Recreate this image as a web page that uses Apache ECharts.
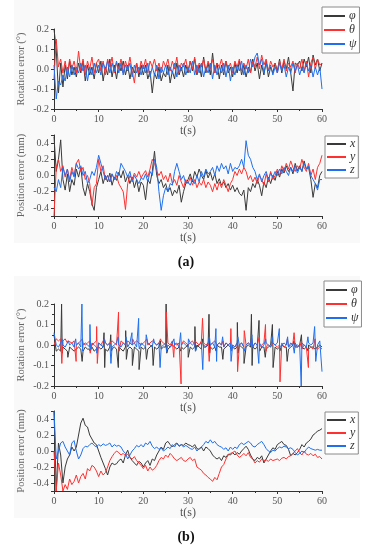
<!DOCTYPE html>
<html><head><meta charset="utf-8">
<script src="https://cdn.jsdelivr.net/npm/echarts@6/dist/echarts.min.js"></script>
<style>html,body{margin:0;padding:0;background:#fff}#c{width:369px;height:550px}</style>
</head><body><div id="c"></div>
<script>
// sampling step of the stored series (seconds)
const STEP = 0.5;
const xTicks = [0, 10, 20, 30, 40, 50, 60];

// (a) Rotation error (deg)
const rotA_phi = [
0.20,0.10,-0.12,0.03,-0.09,0.02,-0.05,0.04,-0.03,0.01,
-0.04,0.03,-0.02,0.04,-0.06,0.02,-0.03,0.01,-0.05,0.03,
-0.02,0.04,-0.06,0.01,-0.03,0.05,-0.04,0.02,-0.05,0.03,
-0.01,0.04,-0.03,0.02,-0.05,0.01,-0.02,0.03,-0.04,0.02,
-0.03,0.02,-0.05,-0.01,-0.12,-0.02,-0.05,0.01,-0.06,-0.02,
-0.04,0.02,-0.07,-0.01,-0.05,0.03,-0.03,0.01,-0.04,0.02,
-0.02,0.04,-0.01,0.05,-0.03,0.02,-0.04,0.06,-0.02,0.03,
-0.03,0.08,-0.02,0.03,-0.05,0.02,-0.03,0.04,-0.02,0.01,
-0.04,0.03,-0.02,0.04,-0.03,0.02,-0.04,0.01,-0.02,0.05,
-0.01,0.03,-0.05,0.02,-0.03,0.04,-0.04,0.01,-0.02,0.03,
-0.01,0.05,-0.02,0.04,0.00,0.06,-0.02,-0.11,0.03,0.02,
0.04,-0.01,0.05,0.01,0.06,-0.02,0.07,0.02,0.05,-0.01,
0.03];
const rotA_theta = [
-0.05,0.15,0.01,0.05,-0.02,0.04,-0.03,0.05,0.00,0.04,
-0.02,0.09,-0.01,0.05,-0.03,0.04,0.00,0.06,-0.02,0.03,
0.05,-0.01,0.04,-0.03,0.05,0.01,0.06,-0.02,0.03,0.00,
0.05,-0.02,0.04,0.00,0.06,-0.01,-0.07,0.03,-0.02,0.04,
0.00,0.05,-0.02,0.04,0.01,0.05,-0.01,0.03,-0.02,0.04,
0.01,0.05,-0.01,0.04,0.00,0.06,-0.02,0.03,0.01,0.05,
-0.01,0.04,0.00,0.06,-0.02,0.03,0.01,0.05,-0.01,0.04,
0.00,0.05,-0.02,0.03,0.01,0.05,-0.01,0.04,0.00,0.03,
-0.02,0.04,0.01,0.05,-0.01,0.03,0.00,0.05,-0.02,0.04,
0.01,0.06,0.00,0.07,0.02,0.05,-0.01,0.04,0.01,0.03,
-0.02,0.04,0.00,0.05,-0.01,0.03,0.01,0.04,-0.02,0.03,
0.00,0.05,-0.01,0.04,-0.04,0.03,0.06,0.00,0.05,0.02,
0.03];
const rotA_psi = [
0.02,-0.15,-0.06,-0.08,-0.03,-0.06,0.01,-0.04,0.02,-0.03,
0.01,-0.02,0.03,-0.01,0.02,-0.06,0.01,-0.03,0.03,-0.02,
0.02,-0.03,0.03,0.00,0.04,-0.02,0.03,-0.01,0.04,-0.02,
0.03,-0.03,0.02,-0.01,0.03,-0.04,0.02,-0.02,0.01,-0.03,
0.02,-0.02,0.03,-0.04,0.01,-0.03,0.02,-0.05,0.01,-0.02,
0.02,-0.03,0.01,-0.02,0.03,-0.04,0.02,-0.01,0.03,-0.03,
0.01,-0.02,0.04,-0.03,0.02,-0.02,0.03,-0.04,0.01,-0.02,
0.03,-0.05,0.02,-0.03,0.01,-0.02,0.03,-0.04,0.02,-0.06,
0.01,-0.03,0.02,-0.01,0.04,-0.03,0.02,-0.02,0.05,0.01,
0.06,0.08,0.02,0.05,-0.02,0.03,-0.01,0.02,-0.03,0.01,
-0.02,0.03,-0.01,0.02,-0.04,0.01,-0.02,0.03,-0.01,0.02,
-0.03,0.01,-0.02,0.03,-0.01,0.02,-0.04,0.01,-0.03,0.01,
-0.10];

// (a) Position error (mm)
const posA_x = [
0.48,0.05,0.20,0.44,-0.05,-0.18,0.02,-0.20,-0.05,-0.12,
0.08,-0.02,0.10,-0.15,-0.25,-0.10,-0.20,-0.35,-0.43,-0.15,
-0.05,0.05,-0.10,0.00,-0.08,0.03,-0.12,-0.02,-0.06,0.04,
-0.03,0.06,-0.08,0.00,-0.10,-0.02,-0.15,-0.05,-0.20,-0.08,
-0.12,-0.30,-0.05,-0.10,0.05,0.30,0.00,-0.10,-0.05,-0.15,
-0.10,-0.20,-0.15,-0.25,-0.18,-0.22,-0.12,-0.33,-0.20,-0.10,
-0.05,0.02,-0.08,0.05,-0.02,0.08,0.00,-0.05,0.06,-0.03,
0.04,-0.06,0.02,-0.10,-0.04,-0.12,-0.08,-0.15,-0.10,-0.18,
-0.12,-0.20,-0.15,-0.22,-0.25,-0.18,-0.43,-0.15,-0.20,-0.10,
-0.15,-0.05,-0.12,-0.25,-0.08,-0.15,-0.02,-0.10,0.00,-0.06,
0.05,-0.02,0.08,0.03,0.12,0.05,0.10,0.02,0.15,0.06,
0.12,0.05,0.18,0.08,0.10,-0.05,-0.27,-0.10,-0.15,0.00,
0.05];
const posA_y = [
-0.50,0.10,0.20,0.05,0.12,-0.02,0.08,-0.05,0.10,0.00,
0.15,0.20,0.05,0.10,-0.05,0.00,-0.10,-0.37,-0.15,-0.10,
0.20,0.05,0.12,-0.05,0.00,-0.08,0.02,-0.05,0.00,-0.10,
-0.15,-0.20,-0.42,-0.10,0.00,-0.05,0.03,-0.02,0.05,-0.03,
0.02,0.06,-0.02,0.08,0.20,0.15,0.05,0.00,0.05,-0.05,
0.00,-0.08,0.03,-0.10,-0.05,-0.12,0.00,-0.08,-0.15,-0.05,
-0.10,-0.02,-0.12,-0.05,-0.15,-0.08,-0.12,-0.05,-0.15,-0.08,
-0.12,-0.20,-0.10,-0.18,-0.08,-0.15,-0.05,-0.12,-0.20,-0.10,
-0.05,0.05,0.00,0.08,0.02,0.10,0.05,-0.05,0.00,-0.08,
-0.02,-0.10,0.00,-0.05,-0.12,0.02,-0.08,0.05,-0.05,0.00,
0.08,0.00,0.12,0.05,0.15,0.08,0.18,0.10,0.05,0.12,
0.08,0.20,0.10,0.05,0.15,0.00,0.08,-0.05,0.10,0.15,
0.25];
const posA_z = [
-0.15,-0.20,-0.05,-0.15,0.10,0.00,0.08,-0.08,0.05,-0.02,
0.15,0.08,0.12,0.00,0.05,-0.10,-0.05,0.05,0.00,0.10,
0.25,0.15,0.05,-0.05,0.00,-0.08,0.02,-0.05,0.05,0.00,
0.15,0.10,0.05,-0.02,0.05,-0.08,0.00,-0.05,-0.10,-0.03,
-0.05,0.02,-0.08,0.05,0.00,0.20,0.10,-0.20,-0.43,-0.25,
-0.15,-0.20,-0.10,-0.12,0.05,0.15,0.05,-0.05,0.00,-0.10,
-0.08,-0.12,-0.05,-0.10,0.00,-0.08,0.05,-0.02,0.08,0.02,
0.05,0.10,0.00,0.12,0.05,0.15,0.08,0.12,0.02,0.15,
0.05,0.10,0.08,0.12,0.20,0.10,0.43,0.25,0.20,0.10,
0.05,-0.05,0.02,-0.08,0.00,0.05,-0.05,0.03,-0.02,0.05,
0.00,0.08,0.02,0.10,0.05,0.00,0.10,0.05,0.12,0.03,
0.10,0.05,0.15,0.08,0.12,0.00,-0.05,-0.10,-0.18,-0.05,
-0.05];

// (b) Rotation error (deg): baseline samples + spikes [t, value]
const rotB_phi = [
0.05,-0.03,-0.02,-0.03,-0.01,-0.02,-0.03,-0.01,-0.02,-0.03,
-0.02,-0.01,-0.02,-0.03,-0.01,-0.02,-0.02,-0.01,-0.03,-0.02,
-0.01,-0.02,-0.01,-0.02,-0.03,-0.01,-0.02,-0.01,-0.02,-0.01,
-0.02,-0.03,-0.01,-0.02,-0.01,-0.02,-0.01,-0.02,-0.03,-0.01,
-0.02,-0.01,-0.02,-0.01,0.00,-0.01,-0.02,-0.01,-0.02,-0.01,
-0.01,-0.02,-0.01,0.00,-0.01,-0.02,-0.01,-0.01,-0.02,-0.01,
0.00,-0.01,-0.02,-0.01,0.00,-0.01,-0.02,-0.01,-0.01,0.00,
-0.01,-0.02,-0.01,0.00,-0.01,-0.01,-0.02,-0.01,0.00,-0.01,
-0.01,-0.02,-0.01,0.00,-0.01,-0.02,-0.01,0.00,-0.01,-0.01,
-0.02,-0.01,0.00,-0.01,-0.01,-0.02,-0.01,0.00,-0.01,-0.01,
-0.02,-0.01,0.00,-0.01,-0.01,-0.02,-0.01,0.00,-0.01,-0.01,
0.00,-0.01,-0.02,-0.01,0.00,-0.01,-0.01,-0.02,-0.01,0.00,
-0.01];
const rotB_theta = [
0.00,0.03,0.02,0.03,0.02,0.03,0.01,0.02,0.01,0.02,
0.00,0.01,0.02,0.01,0.00,0.01,0.02,0.00,0.01,0.02,
0.01,0.00,0.02,0.01,0.00,0.01,0.02,0.01,0.00,0.01,
0.02,0.01,0.00,0.02,0.01,0.00,0.01,0.02,0.01,0.00,
0.01,0.02,0.00,0.01,0.02,0.01,0.00,0.01,0.02,0.01,
0.00,0.01,0.00,0.02,0.01,0.00,0.01,0.00,0.02,0.01,
0.00,0.01,0.02,0.00,0.01,0.00,0.02,0.01,0.00,0.01,
0.00,0.01,0.02,0.00,0.01,0.00,-0.01,0.01,0.00,0.01,
0.00,-0.01,0.01,0.00,0.01,-0.01,0.00,0.01,0.00,-0.01,
0.01,0.00,-0.01,0.00,0.01,-0.01,0.00,-0.01,0.01,0.00,
-0.01,0.00,0.01,-0.01,0.00,-0.01,0.00,0.01,-0.01,0.00,
-0.01,-0.02,0.00,-0.01,-0.02,-0.01,-0.02,-0.01,-0.02,-0.01,
-0.02];
const rotB_psi = [
0.06,0.00,-0.01,0.01,0.00,-0.01,0.01,0.00,0.01,-0.01,
0.00,0.01,-0.01,0.00,0.01,0.00,-0.01,0.01,0.00,-0.01,
0.01,0.00,-0.01,0.01,0.00,0.01,-0.01,0.00,0.01,0.00,
-0.01,0.01,0.00,-0.01,0.01,0.00,0.01,-0.01,0.00,0.01,
0.00,-0.01,0.01,0.00,-0.01,0.01,0.00,0.01,-0.01,0.00,
0.01,0.00,-0.01,0.01,0.00,0.01,-0.01,0.00,0.01,0.00,
-0.01,0.01,0.00,0.01,-0.01,0.00,0.01,0.00,-0.01,0.01,
0.00,0.01,-0.01,0.00,0.01,0.00,-0.01,0.01,0.00,0.01,
0.00,-0.01,0.01,0.00,0.01,-0.01,0.00,0.01,0.00,-0.01,
0.01,0.00,0.01,-0.01,0.00,0.01,0.00,-0.01,0.01,0.00,
0.01,-0.01,0.00,0.01,0.00,-0.01,0.01,0.00,0.01,-0.01,
0.00,0.01,0.00,-0.01,0.01,0.00,0.01,-0.01,0.00,0.02,
-0.13];
const rotB_phiSpikes = [
[1.7,0.20],[1.85,-0.04],[3.1,-0.06],[4.9,-0.03],[6.3,-0.08],[8.05,-0.03],
[11.2,0.06],[11.35,-0.11],[12.7,0.05],[12.85,-0.03],[14.4,-0.11],
[16.05,0.07],[16.2,-0.07],[17.55,-0.10],[19.05,-0.12],[20.7,-0.07],
[22.2,-0.10],[23.8,0.02],[25.1,0.20],[25.25,-0.04],[28.4,-0.03],
[30.05,-0.06],[31.55,0.09],[31.7,-0.03],[33.2,0.03],[34.7,0.15],[34.85,-0.04],
[36.3,-0.03],[37.8,-0.07],[39.55,-0.02],[41.05,0.11],[41.2,-0.04],
[42.55,-0.09],[44.2,0.15],[44.35,-0.10],[45.9,0.12],[46.05,-0.03],
[47.3,-0.06],[48.9,0.10],[49.05,-0.11],[50.55,-0.03],[52.2,-0.08],
[53.7,0.02],[55.4,0.05],[56.9,-0.03],[58.4,-0.02]];
const rotB_thetaSpikes = [
[1.75,-0.09],[3.15,0.02],[4.95,-0.08],[6.35,0.03],[8.1,-0.04],
[9.55,0.09],[9.7,-0.09],[11.25,0.03],[14.45,0.16],[14.6,-0.03],
[17.6,0.03],[20.75,0.03],[23.85,0.03],[25.15,0.16],[26.8,-0.06],
[28.45,-0.19],[31.6,0.02],[33.25,0.13],[34.75,-0.08],[37.85,0.02],
[39.6,0.08],[39.75,-0.03],[41.1,-0.13],[42.6,0.07],[44.25,0.03],
[45.95,0.04],[47.35,0.10],[47.45,-0.03],[50.6,-0.18],[52.25,0.03],
[53.75,0.06],[55.45,0.02],[56.95,-0.11],[58.45,0.03]];
const rotB_psiSpikes = [
[1.8,0.03],[3.2,0.02],[4.85,0.03],[6.25,0.20],[6.4,-0.03],
[8.05,0.10],[8.2,-0.02],[9.6,-0.04],[11.3,0.03],[12.75,-0.09],
[14.35,0.04],[16.1,0.04],[17.45,0.06],[18.95,0.13],[19.1,-0.02],
[20.65,0.05],[22.3,0.03],[23.75,-0.11],[25.2,-0.03],[26.85,0.03],
[28.35,0.06],[30.1,0.03],[31.65,-0.03],[33.3,-0.12],[34.8,0.04],
[36.25,0.08],[36.4,-0.08],[37.75,0.04],[39.65,-0.08],[41.15,0.04],
[42.65,-0.03],[44.3,0.05],[45.85,-0.09],[47.4,0.03],[48.95,0.04],
[50.45,0.08],[52.3,0.04],[53.8,-0.04],[55.35,-0.20],[56.85,0.04],
[58.35,0.09],[58.6,-0.08]];

// (b) Position error (mm)
const posB_x = [
0.50,-0.50,0.10,-0.05,-0.40,-0.20,-0.10,-0.05,0.05,0.00,
0.05,0.20,0.35,0.41,0.32,0.30,0.20,0.15,0.10,0.08,
0.00,-0.08,-0.15,-0.22,-0.30,-0.20,-0.15,-0.17,-0.16,-0.12,
-0.10,-0.15,-0.05,0.01,-0.08,-0.12,-0.15,-0.18,-0.13,-0.15,
-0.20,-0.15,-0.12,-0.18,-0.10,-0.12,-0.05,0.00,0.05,0.02,
0.10,0.12,0.08,0.05,0.08,0.10,0.06,0.08,0.07,0.10,
0.08,0.07,0.05,0.08,0.03,0.02,0.05,0.00,0.05,0.03,
0.00,-0.05,-0.08,-0.10,-0.08,-0.12,-0.06,-0.08,-0.04,-0.05,
-0.02,-0.05,-0.02,-0.04,0.00,0.03,0.06,0.02,-0.05,-0.10,
-0.12,-0.08,-0.10,-0.06,-0.15,-0.10,-0.05,0.00,0.04,0.02,
0.08,0.10,0.12,0.08,0.07,0.02,-0.06,-0.03,-0.05,-0.02,
0.02,0.08,0.05,0.10,0.12,0.15,0.20,0.22,0.25,0.26,
0.28];
const posB_y = [
0.00,-0.50,-0.15,-0.30,-0.50,-0.42,-0.48,-0.35,-0.42,-0.38,
-0.30,-0.40,-0.32,-0.28,-0.35,-0.22,-0.25,-0.18,-0.20,-0.25,
-0.32,-0.25,-0.30,-0.27,-0.20,-0.12,-0.07,-0.03,0.00,-0.02,
-0.05,-0.03,-0.06,-0.04,-0.08,-0.10,-0.07,-0.12,-0.15,-0.18,
-0.22,-0.18,-0.25,-0.20,-0.24,-0.22,-0.18,-0.12,-0.08,-0.10,
-0.05,-0.08,-0.03,-0.06,-0.10,-0.12,-0.10,-0.08,-0.12,-0.13,
-0.10,-0.08,-0.12,-0.10,-0.20,-0.22,-0.24,-0.28,-0.30,-0.33,
-0.35,-0.38,-0.33,-0.36,-0.28,-0.20,-0.17,-0.10,-0.05,-0.03,
-0.02,0.00,-0.05,-0.08,-0.06,-0.03,-0.06,-0.02,-0.08,-0.10,
-0.15,-0.12,-0.14,-0.10,-0.12,-0.11,-0.13,-0.10,-0.12,-0.11,
-0.10,-0.12,-0.09,-0.08,-0.10,-0.07,-0.06,-0.03,0.00,0.03,
-0.02,-0.05,0.00,-0.04,-0.05,-0.03,-0.06,-0.04,-0.08,-0.07,
-0.10];
const posB_z = [
0.50,-0.10,0.00,0.10,0.12,0.05,0.00,-0.05,0.10,0.13,
0.00,-0.10,-0.05,0.03,0.06,0.05,0.08,0.10,0.07,0.05,
0.08,0.06,0.09,0.07,0.08,0.10,0.05,0.08,0.06,0.07,
0.05,0.00,-0.03,-0.10,-0.05,0.00,0.03,0.07,0.05,0.08,
0.05,0.10,0.08,0.12,0.06,0.03,0.05,0.02,0.04,0.00,
0.02,0.05,0.03,0.08,0.05,0.10,0.06,0.08,0.05,0.07,
0.05,0.03,0.02,0.05,0.00,0.03,0.05,0.08,0.12,0.10,
0.14,0.10,0.12,0.08,0.06,0.05,0.02,0.04,0.00,0.05,
0.02,0.05,0.03,0.08,0.10,0.08,0.10,0.12,0.10,0.06,
0.05,0.08,0.10,0.12,0.08,0.03,0.00,-0.02,0.01,0.00,
0.03,0.05,0.04,0.06,0.05,0.03,0.04,0.02,-0.02,-0.05,
-0.03,0.00,-0.02,0.02,0.05,0.03,0.02,0.01,0.02,0.01,
0.01];

const rotNames = ['\u03c6', '\u03b8', '\u03c8'];
const posNames = ['x', 'y', 'z'];
const colors = ['#3a3a3a', '#ff3030', '#1f6fee'];

function toPairs(vals) { return vals.map((v, i) => [i * STEP, v]); }
function withSpikes(vals, spikes) {
  return toPairs(vals).concat(spikes).sort((a, b) => a[0] - b[0]);
}

const grids = [
  {left: 54, top: 29, width: 268, height: 80},
  {left: 54, top: 135, width: 268, height: 81},
  {left: 54, top: 304, width: 268, height: 82},
  {left: 54, top: 411, width: 268, height: 80}
].map(g => Object.assign({outerBoundsMode: 'none', containLabel: false}, g));

const axisCol = '#333';
const labelFont = {fontFamily: 'Liberation Serif', fontSize: 10, color: '#555'};

function xAxis(i) {
  return {
    type: 'value', gridIndex: i, min: xTicks[0], max: xTicks[xTicks.length - 1], interval: 10,
    name: 't(s)', nameLocation: 'middle', nameGap: 14,
    nameTextStyle: {fontFamily: 'Liberation Serif', fontSize: 12, color: '#555'},
    axisLine: {show: true, onZero: false, lineStyle: {color: axisCol, width: 1}},
    axisTick: {show: true, length: 3, lineStyle: {color: axisCol}},
    minorTick: {show: true, splitNumber: 2, length: 2, lineStyle: {color: axisCol}},
    splitLine: {show: false}, minorSplitLine: {show: false},
    axisLabel: Object.assign({margin: 5, formatter: v => String(v)}, labelFont)
  };
}
function yAxisRot(i) {
  return {
    type: 'value', gridIndex: i, min: -0.2, max: 0.2, interval: 0.1,
    name: 'Rotation error (\u00b0)', nameLocation: 'middle', nameGap: 27, nameRotate: 90,
    nameMoveOverlap: false,
    nameTextStyle: {fontFamily: 'Liberation Serif', fontSize: 10.5, color: '#666'},
    axisLine: {show: true, onZero: false, lineStyle: {color: axisCol, width: 1}},
    axisTick: {show: true, length: 3, lineStyle: {color: axisCol}},
    minorTick: {show: true, splitNumber: 2, length: 2, lineStyle: {color: axisCol}},
    splitLine: {show: false}, minorSplitLine: {show: false},
    axisLabel: Object.assign({margin: 5, formatter: v => v.toFixed(1)}, labelFont)
  };
}
function yAxisPos(i) {
  return {
    type: 'value', gridIndex: i, min: -0.5, max: 0.5, interval: 0.1,
    name: 'Position error (mm)', nameLocation: 'middle', nameGap: 27, nameRotate: 90,
    nameMoveOverlap: false,
    nameTextStyle: {fontFamily: 'Liberation Serif', fontSize: 10.5, color: '#666'},
    axisLine: {show: true, onZero: false, lineStyle: {color: axisCol, width: 1}},
    axisTick: {show: true, length: 3, lineStyle: {color: axisCol}},
    splitLine: {show: false},
    axisLabel: Object.assign({margin: 5, formatter: v => {
      const k = Math.round(v * 10);
      return (Math.abs(k) % 2 === 0 && Math.abs(k) < 5) ? (k / 10).toFixed(1) : '';
    }}, labelFont)
  };
}

function line(name, data, idx, ci) {
  return {
    type: 'line', name: name, data: data, xAxisIndex: idx, yAxisIndex: idx,
    showSymbol: false, symbol: 'none', lineStyle: {width: 1, color: colors[ci]},
    itemStyle: {color: colors[ci]}, color: colors[ci], animation: false, z: 2 + ci
  };
}

function legend(names, left, top, lh, gap, w, pad) {
  return {
    data: names.map(n => ({name: n, icon: 'rect'})), orient: 'vertical', left: left, top: top,
    padding: pad, itemWidth: w, itemHeight: 2, itemGap: gap, selectedMode: false,
    borderColor: '#8a8a8a', borderWidth: 1, backgroundColor: '#fff',
    textStyle: {fontFamily: 'Liberation Serif', fontStyle: 'italic', fontSize: 12, lineHeight: lh,
      color: '#333', padding: [0, 0, 0, -1]}
  };
}

const option = {
  animation: false,
  backgroundColor: '#fff',
  graphic: [
    {type: 'rect', shape: {x: 14, y: 0, width: 346, height: 243}, style: {fill: '#f9f9f9'}, z: -10, silent: true},
    {type: 'rect', shape: {x: 14, y: 276, width: 346, height: 242}, style: {fill: '#f9f9f9'}, z: -10, silent: true},
    {type: 'text', x: 186, y: 262, style: {text: '(a)', font: 'bold 14px "Liberation Serif"', fill: '#111', textAlign: 'center', textVerticalAlign: 'middle'}},
    {type: 'text', x: 186, y: 537, style: {text: '(b)', font: 'bold 14px "Liberation Serif"', fill: '#111', textAlign: 'center', textVerticalAlign: 'middle'}}
  ],
  grid: grids,
  xAxis: [xAxis(0), xAxis(1), xAxis(2), xAxis(3)],
  yAxis: [yAxisRot(0), yAxisPos(1), yAxisRot(2), yAxisPos(3)],
  legend: [
    legend(rotNames, 322, 7, 11, 2, 21, [3, 3, 3, 2]),
    legend(posNames, 325, 136, 10, 1, 19, [2, 3, 2, 2]),
    legend(rotNames, 324, 281, 11, 2, 21, [3, 3, 3, 2]),
    legend(posNames, 325, 412, 10, 1, 19, [2, 3, 2, 2])
  ],
  series: [
    line(rotNames[0], toPairs(rotA_phi), 0, 0),
    line(rotNames[1], toPairs(rotA_theta), 0, 1),
    line(rotNames[2], toPairs(rotA_psi), 0, 2),
    line(posNames[0], toPairs(posA_x), 1, 0),
    line(posNames[1], toPairs(posA_y), 1, 1),
    line(posNames[2], toPairs(posA_z), 1, 2),
    line(rotNames[0], withSpikes(rotB_phi, rotB_phiSpikes), 2, 0),
    line(rotNames[1], withSpikes(rotB_theta, rotB_thetaSpikes), 2, 1),
    line(rotNames[2], withSpikes(rotB_psi, rotB_psiSpikes), 2, 2),
    line(posNames[0], toPairs(posB_x), 3, 0),
    line(posNames[1], toPairs(posB_y), 3, 1),
    line(posNames[2], toPairs(posB_z), 3, 2)
  ]
};

const chart = echarts.init(document.getElementById('c'), null, {renderer: 'canvas'});
chart.setOption(option);
</script>
</body></html>
